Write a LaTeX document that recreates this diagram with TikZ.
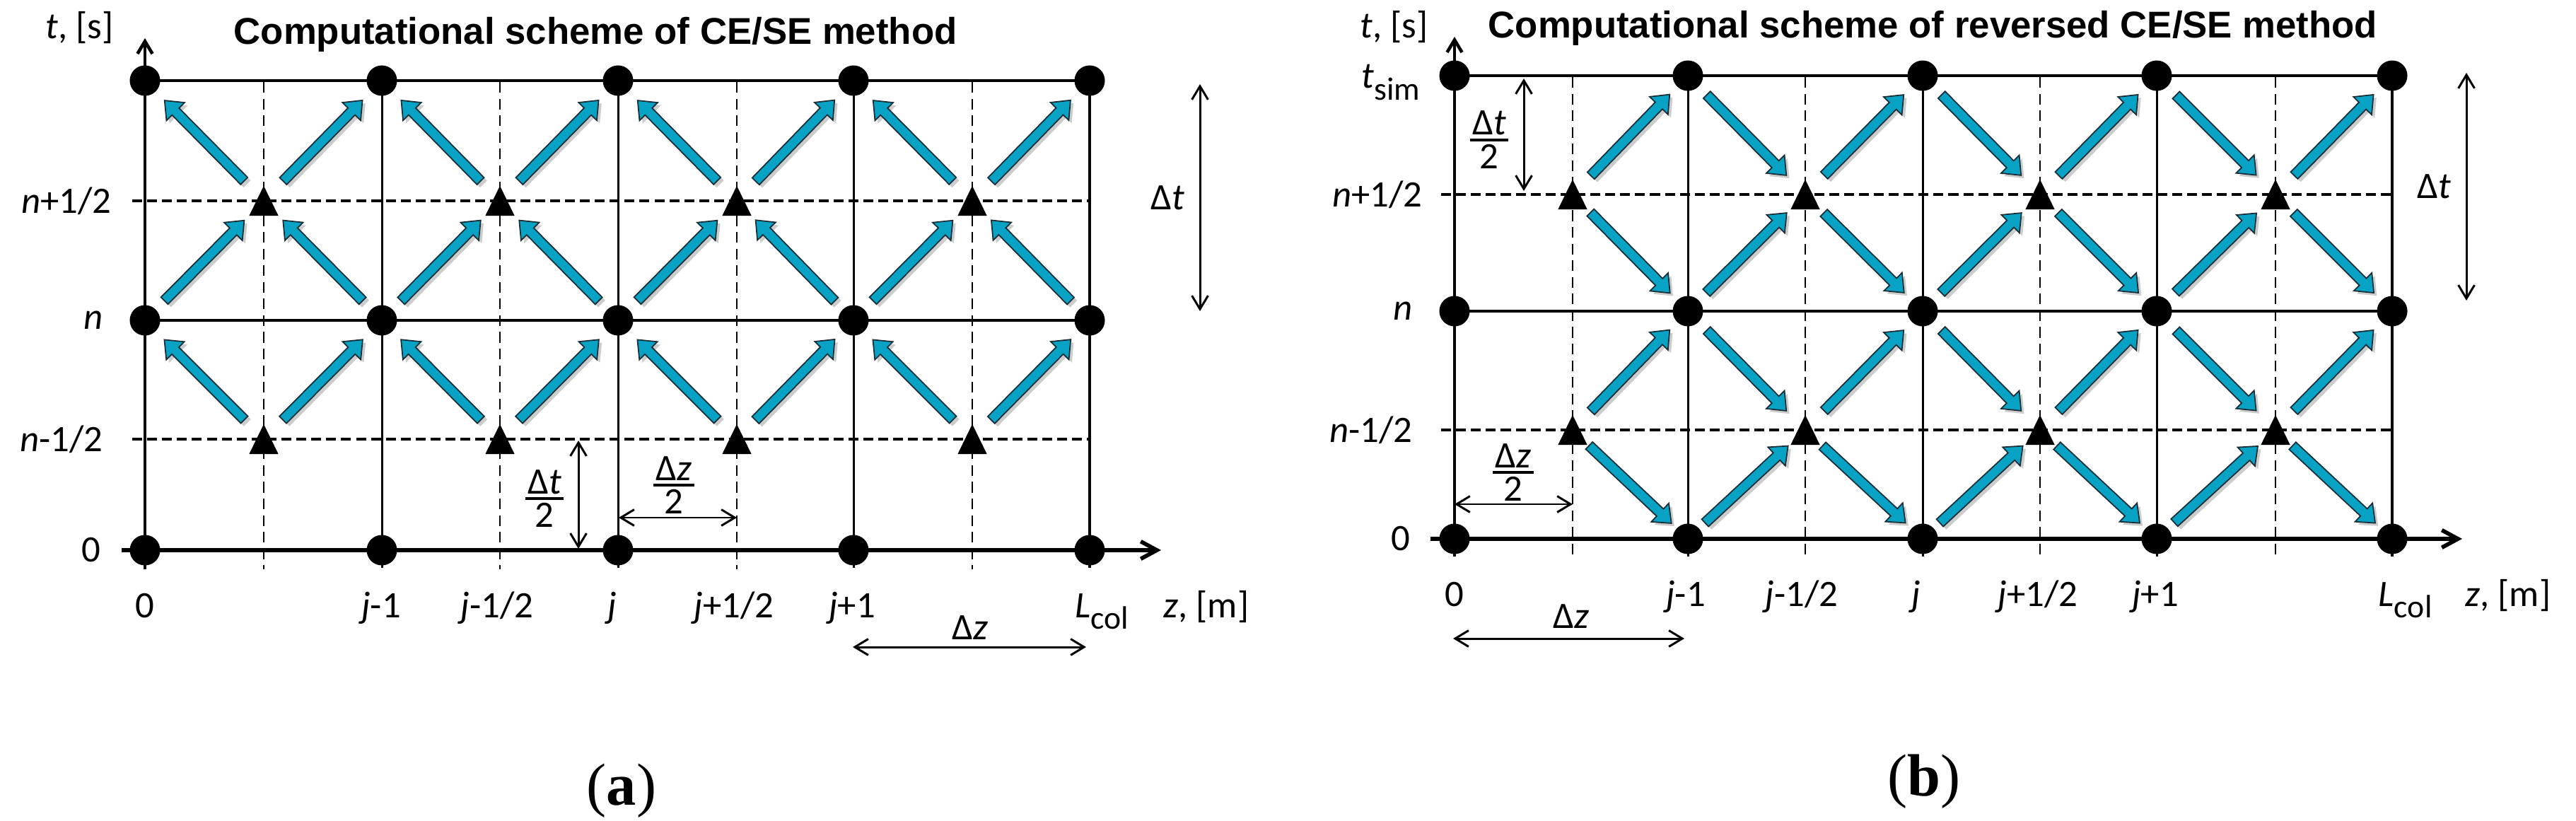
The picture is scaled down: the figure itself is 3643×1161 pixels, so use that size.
\documentclass[tikz,border=0pt]{standalone}
\usepackage{fontspec}
\setmainfont{Carlito}
\newfontfamily\titlefont{Liberation Sans}
\newfontfamily\capfont{Liberation Serif}
\usetikzlibrary{arrows.meta,calc}
\pgfdeclarelayer{bg}
\pgfsetlayers{bg,main}
\definecolor{arrowcyan}{RGB}{8,163,196}
\definecolor{arrowedge}{RGB}{25,45,55}
\newcommand\blockarrow[2]{%
  \pgfmathanglebetweenpoints{\pgfpointanchor{#1}{center}}{\pgfpointanchor{#2}{center}}%
  \edef\barangle{\pgfmathresult}%
  \fill[black, opacity=0.2, shift={($(#1.center)!0.5!(#2.center)$)}, xshift=1.2pt, yshift=-1.2pt, rotate=\barangle]
    (-80,-7) -- (58,-7) -- (58,-18) -- (80,0) -- (58,18) -- (58,7) -- (-80,7) -- cycle;
  \draw[blockstyle, shift={($(#1.center)!0.5!(#2.center)$)}, rotate=\barangle]
    (-80,-7) -- (58,-7) -- (58,-18) -- (80,0) -- (58,18) -- (58,7) -- (-80,7) -- cycle;
}
\newcommand\trifill[1]{\fill[black] (#1.north) -- (#1.south east) -- (#1.south west) -- cycle;}
\newcommand\lowsub[1]{\raisebox{-0.32em}{\fontsize{13}{13}\selectfont #1}}
\newcommand\halffrac[1]{${\hbox{\kern1pt #1\kern1pt}\above 1.2pt\hbox{2}}$}
\tikzset{
  dotnode/.style={circle, fill=black, inner sep=0pt, minimum size=0.43cm},
  trinode/.style={rectangle, inner sep=0pt, minimum width=0.40cm, minimum height=0.41cm},
  blockstyle/.style={fill=arrowcyan, draw=arrowedge, line width=0.5pt, line join=miter},
  rowline/.style={line width=1.1pt},
  colline/.style={line width=0.85pt},
  edgeline/.style={line width=1.15pt},
  taxis/.style={line width=1.3pt, -{Straight Barb[length=5pt,width=6pt]}},
  zaxis/.style={line width=1.6pt, -{Straight Barb[length=6.5pt,width=7pt]}},
  hdashA/.style={line width=1.3pt, dash pattern=on 4pt off 2pt},
  hdashB/.style={line width=0.9pt, dash pattern=on 4pt off 2pt},
  vdash/.style={line width=0.75pt, dash pattern=on 4.3pt off 2.4pt},
  dimarrow/.style={line width=0.85pt, {Straight Barb[length=5.4pt,width=6.5pt]}-{Straight Barb[length=5.4pt,width=6.5pt]}},
  lbl/.style={font=\fontsize{15}{18}\selectfont, inner sep=0pt},
  ttl/.style={font=\titlefont\bfseries\fontsize{15}{18}\selectfont, inner sep=0pt},
  captxt/.style={font=\capfont\fontsize{24}{28}\selectfont, inner sep=0pt},
}
\begin{document}
\begin{tikzpicture}[x=0.01cm,y=-0.01cm]
\useasboundingbox (0,0) rectangle (3643,1161);

% ================= panel (a) : nodes =================
\foreach \i/\x in {0/205,1/540,2/874,3/1207,4/1541}{
  \node[dotnode] (aT\i) at (\x,114) {};
  \node[dotnode] (aN\i) at (\x,453) {};
  \node[dotnode] (aZ\i) at (\x,778) {};
}
\foreach \i/\x in {0/373,1/707,2/1042,3/1375}{
  \node[trinode] (aP\i) at (\x,284) {};
  \node[trinode] (aM\i) at (\x,621) {};
  \trifill{aP\i}
  \trifill{aM\i}
}

% ================= panel (b) : nodes =================
\foreach \i/\x in {0/2057,1/2387,2/2719,3/3050,4/3383}{
  \node[dotnode] (bT\i) at (\x,107) {};
  \node[dotnode] (bN\i) at (\x,440) {};
  \node[dotnode] (bZ\i) at (\x,762) {};
}
\foreach \i/\x in {0/2224,1/2553,2/2885,3/3218}{
  \node[trinode] (bP\i) at (\x,275) {};
  \node[trinode] (bM\i) at (\x,608) {};
  \trifill{bP\i}
  \trifill{bM\i}
}

% ================= grid lines (background) =================
\begin{pgfonlayer}{bg}
\fill[white] (0,0) rectangle (3643,1161);
% --- (a)
\draw[rowline] (aT0.center) -- (aT4.center);
\draw[rowline] (aN0.center) -- (aN4.center);
\coordinate (aPl) at (187,284); \coordinate (aPr) at (1541,284);
\coordinate (aMl) at (187,621); \coordinate (aMr) at (1541,621);
\draw[hdashA] (aPl) -- (aPr);
\draw[hdashA] (aMl) -- (aMr);
\foreach \i/\x in {1/540,2/874,3/1207}{
  \coordinate (aC\i) at (\x,803);
  \draw[colline] (aT\i.center) -- (aC\i);
}
\coordinate (aC4) at (1541,803);
\draw[edgeline] (aT4.center) -- (aC4);
\foreach \i/\x in {0/373,1/707,2/1042,3/1375}{
  \coordinate (aDa\i) at (\x,116); \coordinate (aDb\i) at (\x,805);
  \draw[vdash] (aDa\i) -- (aDb\i);
}
\coordinate (aTa) at (205,805); \coordinate (aTb) at (205,54);
\draw[taxis] (aTa) -- (aTb);
\coordinate (aZa) at (172,778); \coordinate (aZb) at (1642,778);
\draw[zaxis] (aZa) -- (aZb);
% --- (b)
\draw[rowline] (bT0.center) -- (bT4.center);
\draw[rowline] (bN0.center) -- (bN4.center);
\coordinate (bPl) at (2038,275); \coordinate (bPr) at (3383,275);
\coordinate (bMl) at (2038,608); \coordinate (bMr) at (3383,608);
\draw[hdashB] (bPl) -- (bPr);
\draw[hdashB] (bMl) -- (bMr);
\foreach \i/\x in {1/2387,2/2719,3/3050}{
  \coordinate (bC\i) at (\x,787);
  \draw[colline] (bT\i.center) -- (bC\i);
}
\coordinate (bC4) at (3383,787);
\draw[edgeline] (bT4.center) -- (bC4);
\foreach \i/\x in {0/2224,1/2553,2/2885,3/3218}{
  \coordinate (bDa\i) at (\x,109); \coordinate (bDb\i) at (\x,787);
  \draw[vdash] (bDa\i) -- (bDb\i);
}
\coordinate (bTa) at (2057,787); \coordinate (bTb) at (2057,52);
\draw[taxis] (bTa) -- (bTb);
\coordinate (bZa) at (2023,762); \coordinate (bZb) at (3482,762);
\draw[zaxis] (bZa) -- (bZb);
\end{pgfonlayer}

% ================= block arrows (a): all pointing forward in time =================
\foreach \k/\kn in {0/1,1/2,2/3,3/4}{
  \blockarrow{aP\k}{aT\k}
  \blockarrow{aP\k}{aT\kn}
  \blockarrow{aN\k}{aP\k}
  \blockarrow{aN\kn}{aP\k}
  \blockarrow{aM\k}{aN\k}
  \blockarrow{aM\k}{aN\kn}
}
% ================= block arrows (b): all pointing in +z =================
\foreach \k/\kn in {0/1,1/2,2/3,3/4}{
  \blockarrow{bP\k}{bT\kn}
  \blockarrow{bP\k}{bN\kn}
  \blockarrow{bM\k}{bN\kn}
  \blockarrow{bM\k}{bZ\kn}
}
\foreach \k in {1,2,3}{
  \blockarrow{bT\k}{bP\k}
  \blockarrow{bN\k}{bP\k}
  \blockarrow{bN\k}{bM\k}
  \blockarrow{bZ\k}{bM\k}
}

% ================= dimension arrows =================
\coordinate (aDt1) at (1697,119); \coordinate (aDt2) at (1697,440);
\draw[dimarrow] (aDt1) -- (aDt2);
\coordinate (aHt1) at (818,623); \coordinate (aHt2) at (818,776);
\draw[dimarrow] (aHt1) -- (aHt2);
\coordinate (aHz1) at (875,732); \coordinate (aHz2) at (1042,732);
\draw[dimarrow] (aHz1) -- (aHz2);
\coordinate (aDz1) at (1206,915); \coordinate (aDz2) at (1536,915);
\draw[dimarrow] (aDz1) -- (aDz2);

\coordinate (bHt1) at (2155,111); \coordinate (bHt2) at (2155,270);
\draw[dimarrow] (bHt1) -- (bHt2);
\coordinate (bDt1) at (3488,103); \coordinate (bDt2) at (3488,425);
\draw[dimarrow] (bDt1) -- (bDt2);
\coordinate (bHz1) at (2057,713); \coordinate (bHz2) at (2224,713);
\draw[dimarrow] (bHz1) -- (bHz2);
\coordinate (bDz1) at (2055,903); \coordinate (bDz2) at (2382,903);
\draw[dimarrow] (bDz1) -- (bDz2);

% ================= texts (a) =================
\node[ttl, anchor=base west] (aTitle) at (330,63) {Computational scheme of CE/SE method};
\node[lbl, anchor=base east] (aTlab) at (161,55) {\textit{t}, [s]};
\node[lbl, anchor=east] (aRnp) at (158,284) {\textit{n}+1/2};
\node[lbl, anchor=east] (aRn) at (146,453) {\textit{n}};
\node[lbl, anchor=east] (aRnm) at (146,621) {\textit{n}-1/2};
\node[lbl, anchor=east] (aR0) at (143,778) {0};
\node[lbl, anchor=base] (aX0) at (205,873) {0};
\node[lbl, anchor=base] (aX1) at (539,873) {\textit{j}-1};
\node[lbl, anchor=base] (aX2) at (703,873) {\textit{j}-1/2};
\node[lbl, anchor=base] (aX3) at (866,873) {\textit{j}};
\node[lbl, anchor=base] (aX4) at (1038,873) {\textit{j}+1/2};
\node[lbl, anchor=base] (aX5) at (1205,873) {\textit{j}+1};
\node[lbl, anchor=base west] (aX6) at (1520,873) {\textit{L}\lowsub{col}};
\node[lbl, anchor=base west] (aZlab) at (1645,873) {\textit{z}, [m]};
\node[lbl, anchor=east] (aDtL) at (1676,280) {Δ\textit{t}};
\node[lbl] (aHtL) at (770,705) {\halffrac{Δ\textit{t}}};
\node[lbl] (aHzL) at (953,686) {\halffrac{Δ\textit{z}}};
\node[lbl] (aDzL) at (1372,888) {Δ\textit{z}};
\node[captxt] (capA) at (879,1118) {(\textbf{a})};

% ================= texts (b) =================
\node[ttl, anchor=base west] (bTitle) at (2104,54) {Computational scheme of reversed CE/SE method};
\node[lbl, anchor=base east] (bTlab) at (2020,54) {\textit{t}, [s]};
\node[lbl, anchor=base east] (bRtop) at (2009,125) {\textit{t}\lowsub{sim}};
\node[lbl, anchor=east] (bRnp) at (2012,275) {\textit{n}+1/2};
\node[lbl, anchor=east] (bRn) at (1998,440) {\textit{n}};
\node[lbl, anchor=east] (bRnm) at (1998,608) {\textit{n}-1/2};
\node[lbl, anchor=east] (bR0) at (1995,762) {0};
\node[lbl, anchor=base] (bX0) at (2057,857) {0};
\node[lbl, anchor=base] (bX1) at (2384,857) {\textit{j}-1};
\node[lbl, anchor=base] (bX2) at (2548,857) {\textit{j}-1/2};
\node[lbl, anchor=base] (bX3) at (2710,857) {\textit{j}};
\node[lbl, anchor=base] (bX4) at (2882,857) {\textit{j}+1/2};
\node[lbl, anchor=base] (bX5) at (3048,857) {\textit{j}+1};
\node[lbl, anchor=base west] (bX6) at (3363,857) {\textit{L}\lowsub{col}};
\node[lbl, anchor=base west] (bZlab) at (3486,857) {\textit{z}, [m]};
\node[lbl, anchor=east] (bDtL) at (3467,264) {Δ\textit{t}};
\node[lbl] (bHtL) at (2106,198) {\halffrac{Δ\textit{t}}};
\node[lbl] (bHzL) at (2140,668) {\halffrac{Δ\textit{z}}};
\node[lbl] (bDzL) at (2222,872) {Δ\textit{z}};
\node[captxt] (capB) at (2721,1105) {(\textbf{b})};
\end{tikzpicture}
\end{document}
